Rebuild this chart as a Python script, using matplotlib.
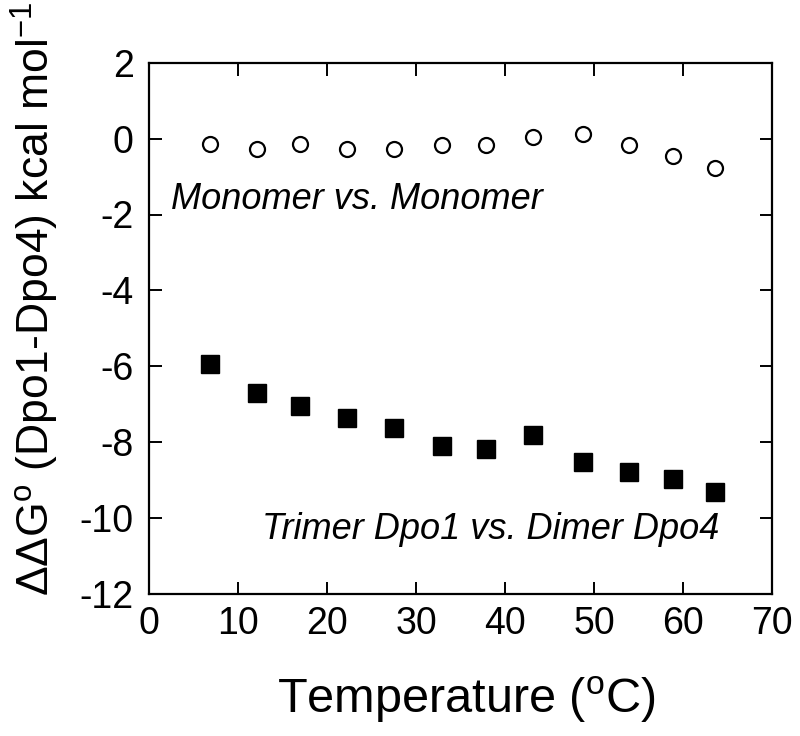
import matplotlib
matplotlib.use("Agg")
import matplotlib.pyplot as plt

plt.rcParams['font.family'] = ['Liberation Sans', 'DejaVu Sans']
plt.rcParams['mathtext.fontset'] = 'custom'
plt.rcParams['mathtext.rm'] = 'Liberation Sans'
plt.rcParams['mathtext.it'] = 'Liberation Sans:italic'
plt.rcParams['axes.unicode_minus'] = False

# temperatures (C)
temp = [6.9, 12.1, 17.0, 22.2, 27.5, 32.9, 37.9, 43.1, 48.8, 53.9, 58.9, 63.6]
# monomer vs monomer (open circles)
ddg_mono = [-0.13, -0.27, -0.13, -0.27, -0.27, -0.18, -0.18, 0.04, 0.13, -0.18, -0.45, -0.77]
# trimer Dpo1 vs dimer Dpo4 (filled squares)
ddg_trimer = [-5.94, -6.71, -7.04, -7.36, -7.63, -8.09, -8.18, -7.81, -8.51, -8.78, -8.96, -9.32]

xticks = [0, 10, 20, 30, 40, 50, 60, 70]
yticks = [2, 0, -2, -4, -6, -8, -10, -12]

fig = plt.figure(figsize=(8.0, 7.36), dpi=100)
ax = fig.add_axes([149/800, 1-594/736, (772-149)/800, (594-62.7)/736])

ax.plot(temp, ddg_mono, linestyle='none', marker='o', ms=10.8,
        mfc='white', mec='black', mew=1.6)
ax.plot(temp, ddg_trimer, linestyle='none', marker='s', ms=13,
        mfc='black', mec='black')

ax.set_xlim(0, 70)
ax.set_ylim(-12, 2)
ax.set_xticks(xticks)
ax.set_yticks(yticks)
ax.tick_params(direction='in', length=9, width=1.4, labelsize=27,
               top=True, right=True)
ax.tick_params(axis='y', pad=11)
ax.tick_params(axis='x', pad=9)
for s in ax.spines.values():
    s.set_linewidth(1.6)

ax.text(2.45, -1.85, 'Monomer vs. Monomer', style='italic', fontsize=26,
        va='baseline', ha='left')
ax.text(12.7, -10.55, 'Trimer Dpo1 vs. Dimer Dpo4', style='italic', fontsize=26,
        va='baseline', ha='left')

ax.set_xlabel(r'Temperature ($^{\mathrm{o}}$C)', fontsize=35, va='center')
ax.xaxis.set_label_coords((466-149)/(772-149), (594-700)/(594-62.7))
ax.set_ylabel(r'ΔΔG$^{\mathrm{o}}$ (Dpo1-Dpo4) kcal mol$^{\mathrm{-1}}$',
              fontsize=32, va='center')
ax.yaxis.set_label_coords((35-149)/(772-149), (594-299)/(594-62.7))

fig.savefig('out.png', dpi=100)
